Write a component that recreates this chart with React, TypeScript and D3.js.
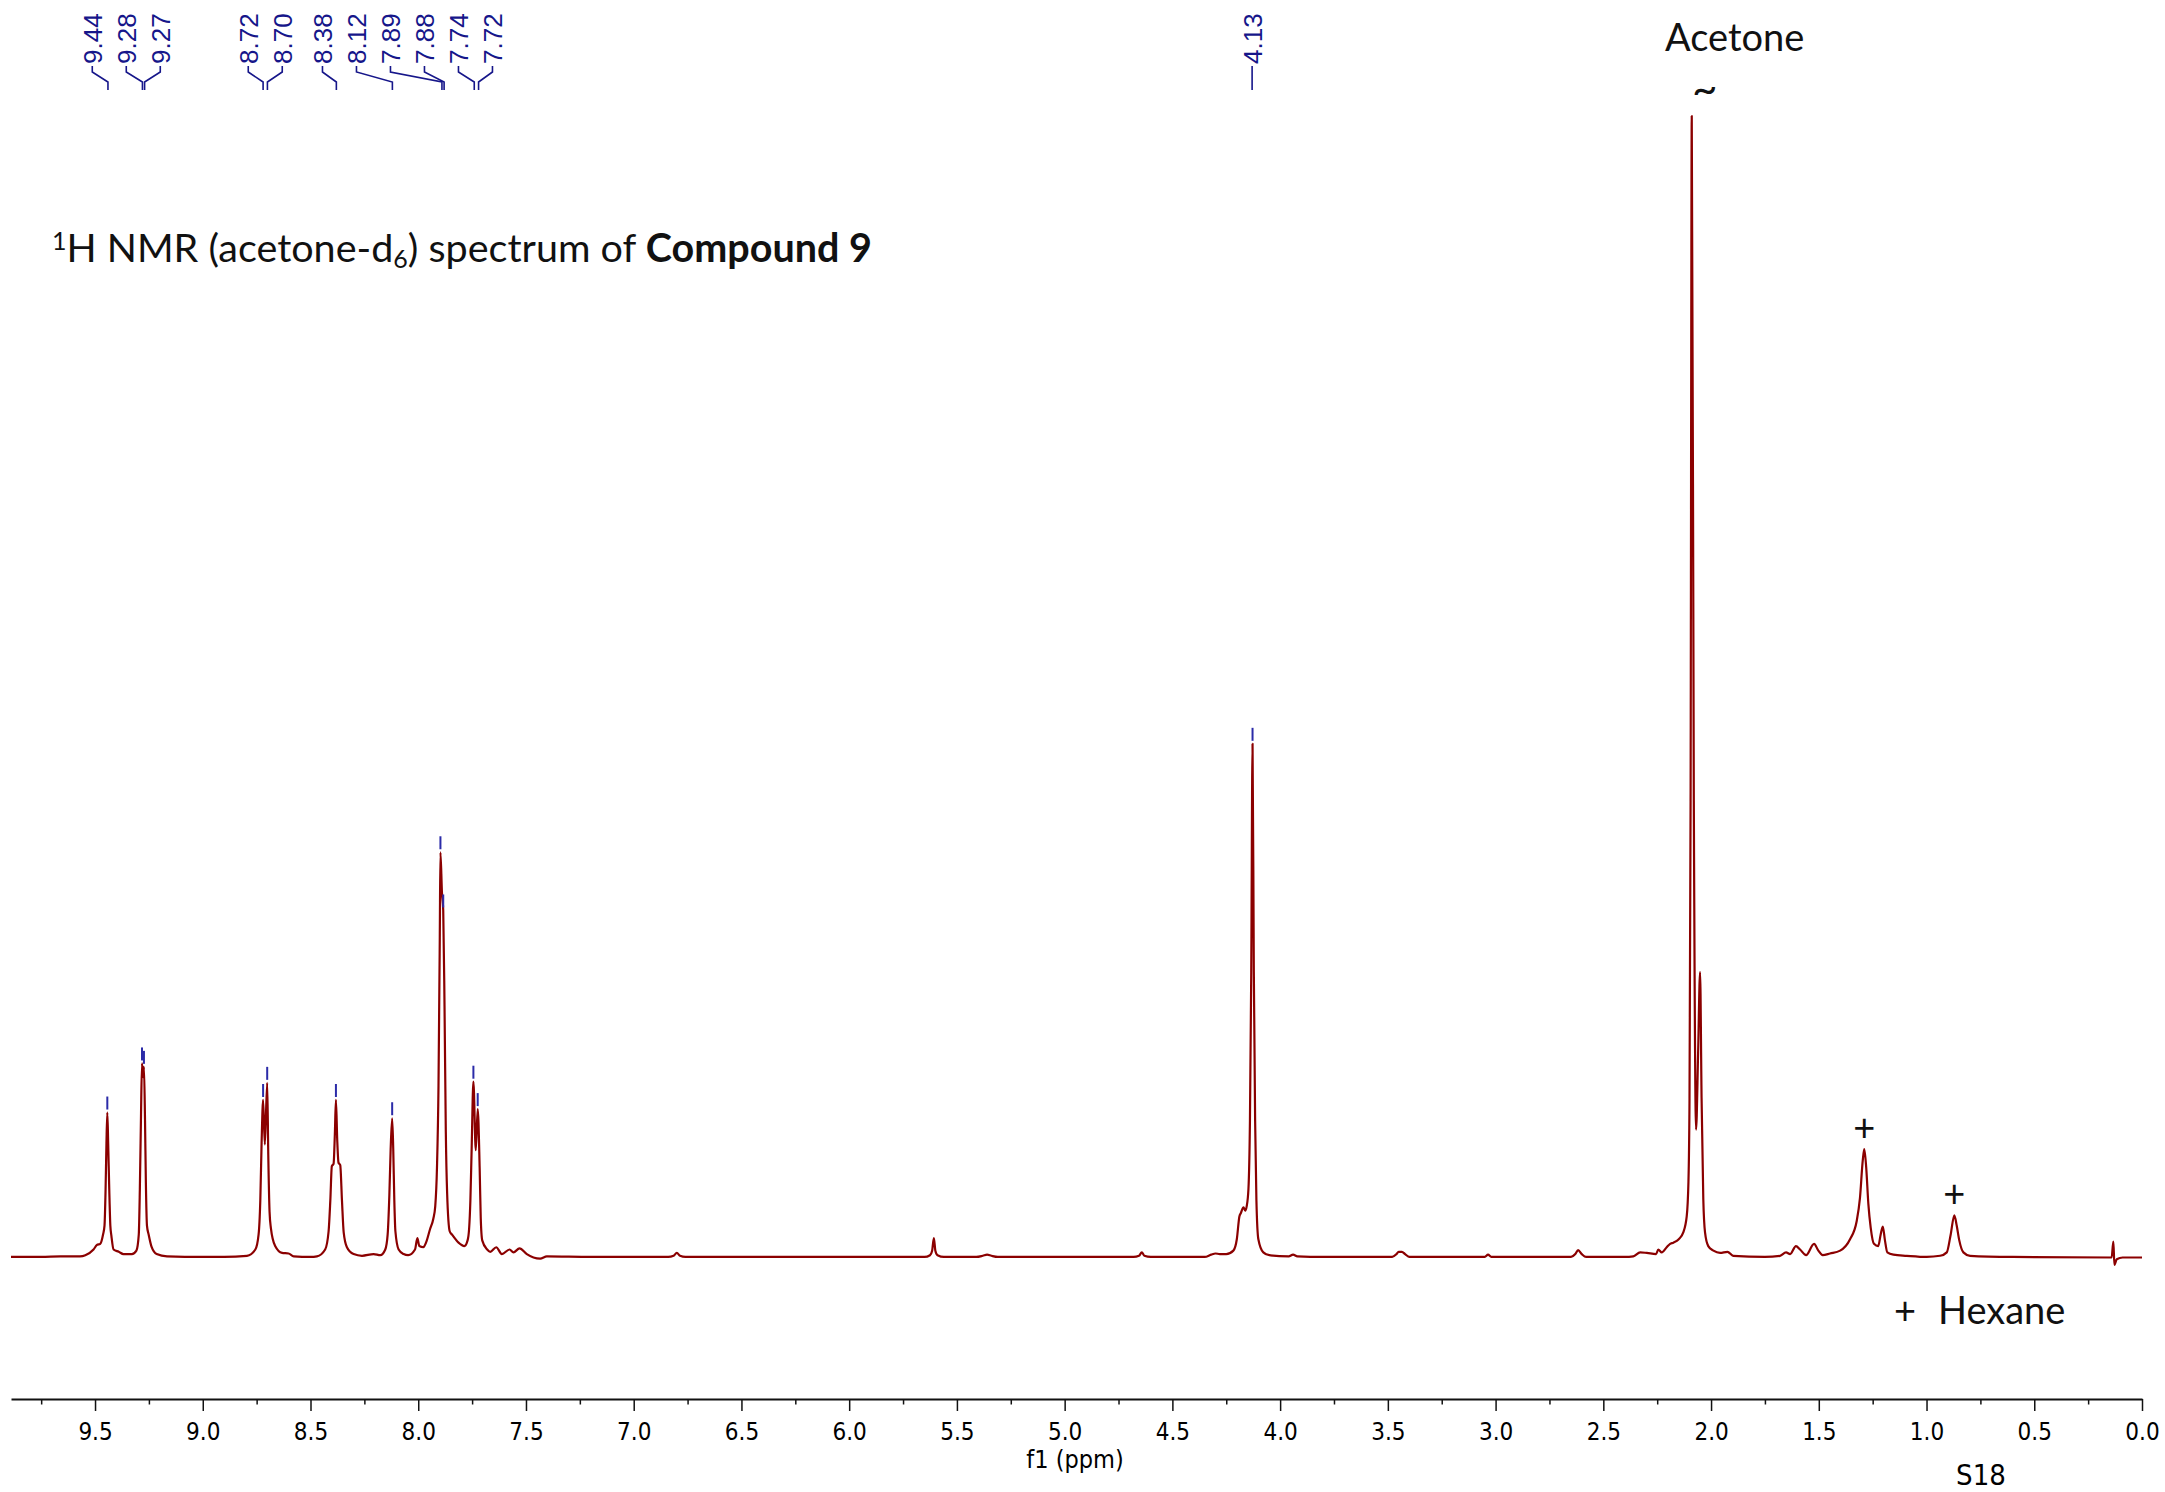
import React, { useEffect, useRef } from 'react'
import * as d3 from 'd3'

// spectrum trace: [ppm, intensity] with the acetone peak = 100
const spectrum: [number, number][] = [
  [9.89, 0.05], [9.75, 0.05], [9.66, 0.1], [9.57, 0.1], [9.545, 0.2], [9.507, 0.7],
  [9.491, 1.1], [9.476, 1.2], [9.463, 2.0], [9.456, 2.8], [9.451, 6.0], [9.447, 10.0],
  [9.443, 12.7], [9.439, 10.0], [9.434, 6.0], [9.429, 2.8], [9.424, 1.9], [9.414, 0.7],
  [9.39, 0.5], [9.368, 0.3], [9.329, 0.3], [9.308, 0.6], [9.297, 2.0], [9.292, 6.0],
  [9.287, 12.0], [9.282, 17.0], [9.277, 15.8], [9.273, 16.7], [9.268, 12.0], [9.264, 6.5],
  [9.259, 2.8], [9.251, 2.0], [9.237, 0.9], [9.214, 0.3], [9.166, 0.1], [9.0, 0.05],
  [8.9, 0.05], [8.795, 0.15], [8.756, 0.7], [8.741, 2.0], [8.733, 5.0], [8.727, 10.0],
  [8.72, 13.8], [8.712, 9.9], [8.701, 15.3], [8.696, 9.0], [8.69, 4.0], [8.684, 2.6],
  [8.664, 1.0], [8.632, 0.4], [8.602, 0.35], [8.578, 0.1], [8.5, 0.05], [8.47, 0.1],
  [8.432, 0.7], [8.416, 2.3], [8.408, 5.0], [8.401, 8.0], [8.393, 8.2], [8.387, 10.8],
  [8.382, 13.8], [8.376, 10.3], [8.37, 8.3], [8.362, 8.1], [8.354, 5.0], [8.346, 2.2],
  [8.331, 0.9], [8.3, 0.3], [8.261, 0.15], [8.207, 0.3], [8.176, 0.2], [8.153, 0.7],
  [8.142, 2.0], [8.134, 5.5], [8.128, 9.5], [8.121, 12.2], [8.116, 9.5], [8.111, 5.0],
  [8.106, 2.3], [8.091, 0.7], [8.068, 0.3], [8.047, 0.2], [8.015, 0.7], [8.004, 1.7],
  [7.995, 1.0], [7.976, 0.9], [7.964, 1.3], [7.945, 2.5], [7.93, 3.4], [7.921, 4.5],
  [7.913, 7.9], [7.906, 15.0], [7.9, 28.0], [7.897, 35.5], [7.89, 32.0], [7.884, 30.4],
  [7.878, 22.0], [7.872, 11.0], [7.866, 5.7], [7.854, 2.3], [7.843, 2.0], [7.813, 1.3],
  [7.786, 1.0], [7.771, 1.5], [7.764, 2.5], [7.758, 5.0], [7.752, 9.6], [7.744, 15.4],
  [7.733, 9.4], [7.724, 13.0], [7.715, 7.9], [7.71, 3.5], [7.703, 1.5], [7.68, 0.7],
  [7.666, 0.5], [7.638, 0.9], [7.612, 0.3], [7.576, 0.7], [7.558, 0.45], [7.53, 0.8],
  [7.496, 0.3], [7.465, 0.0], [7.434, -0.1], [7.403, 0.1], [7.2, 0.05], [6.84, 0.05],
  [6.815, 0.15], [6.8, 0.4], [6.785, 0.15], [6.76, 0.05], [5.65, 0.05], [5.625, 0.2],
  [5.615, 0.6], [5.607, 1.7], [5.6, 0.6], [5.59, 0.2], [5.56, 0.05], [5.41, 0.05],
  [5.38, 0.15], [5.36, 0.25], [5.34, 0.15], [5.31, 0.05], [4.68, 0.05], [4.655, 0.15],
  [4.642, 0.45], [4.63, 0.15], [4.6, 0.05], [4.35, 0.05], [4.32, 0.25], [4.3, 0.35],
  [4.28, 0.3], [4.25, 0.3], [4.217, 0.6], [4.201, 1.6], [4.189, 3.6], [4.182, 3.9],
  [4.17, 4.4], [4.162, 4.1], [4.155, 4.5], [4.147, 6.0], [4.14, 12.0], [4.134, 25.0],
  [4.128, 45.0], [4.122, 25.0], [4.116, 12.0], [4.11, 5.0], [4.101, 1.6], [4.078, 0.45],
  [4.05, 0.2], [3.96, 0.1], [3.94, 0.25], [3.92, 0.1], [3.8, 0.05], [3.48, 0.05],
  [3.46, 0.3], [3.45, 0.5], [3.435, 0.5], [3.42, 0.3], [3.4, 0.05], [3.05, 0.05],
  [3.035, 0.25], [3.02, 0.05], [2.65, 0.05], [2.63, 0.3], [2.617, 0.65], [2.6, 0.3],
  [2.58, 0.05], [2.4, 0.05], [2.361, 0.1], [2.329, 0.45], [2.298, 0.4], [2.255, 0.3],
  [2.245, 0.7], [2.229, 0.45], [2.206, 0.9], [2.19, 1.2], [2.175, 1.3], [2.15, 1.6],
  [2.129, 2.2], [2.113, 3.6], [2.105, 6.6], [2.1, 13.9], [2.095, 40.0], [2.0896, 100.0],
  [2.08, 40.0], [2.0696, 11.2], [2.06, 18.0], [2.051, 25.0], [2.044, 14.0], [2.036, 5.1],
  [2.028, 2.2], [2.013, 1.0], [1.989, 0.6], [1.958, 0.4], [1.924, 0.5], [1.897, 0.15],
  [1.75, 0.05], [1.68, 0.15], [1.652, 0.45], [1.633, 0.3], [1.606, 1.0], [1.587, 0.7],
  [1.559, 0.2], [1.522, 1.2], [1.502, 0.6], [1.482, 0.2], [1.448, 0.35], [1.401, 0.6],
  [1.355, 1.6], [1.324, 3.2], [1.309, 5.2], [1.296, 8.5], [1.289, 9.5], [1.28, 7.9],
  [1.27, 4.7], [1.259, 2.6], [1.244, 1.2], [1.224, 1.0], [1.213, 2.0], [1.203, 2.7],
  [1.193, 1.5], [1.182, 0.45], [1.154, 0.25], [1.092, 0.15], [0.999, 0.05], [0.937, 0.15],
  [0.906, 0.45], [0.888, 2.0], [0.871, 3.7], [0.86, 2.8], [0.848, 1.5], [0.829, 0.45],
  [0.798, 0.15], [0.6, 0.05], [0.141, 0.0], [0.133, 1.4], [0.128, -0.65], [0.117, -0.15],
  [0.09, 0.0], [0.0, 0.0],
]

const peakLabels = [9.44, 9.28, 9.27, 8.72, 8.7, 8.38, 8.12, 7.89, 7.88, 7.74, 7.72, 4.13]
const hexanePeaks = [1.289, 0.871]
const acetonePeak = 2.0896
const majorTicks = [9.5, 9.0, 8.5, 8.0, 7.5, 7.0, 6.5, 6.0, 5.5, 5.0, 4.5, 4.0, 3.5, 3.0, 2.5, 2.0, 1.5, 1.0, 0.5, 0.0]
const minorTicks = [9.75, 9.25, 8.75, 8.25, 7.75, 7.25, 6.75, 6.25, 5.75, 5.25, 4.75, 4.25, 3.75, 3.25, 2.75, 2.25, 1.75, 1.25, 0.75, 0.25]

const WIDTH = 2165
const HEIGHT = 1492
const TRACE = '#8b0000'
const LABEL_BLUE = '#16168a'
const NARROW = "'Liberation Sans Narrow', 'DejaVu Sans Condensed', sans-serif"
const CALIBRI = 'Lato, sans-serif'

// spread peak labels apart the way the NMR software does: merge crowded ones and centre them
const layoutLabels = (xs: number[], gap: number) => {
  let groups = xs.map((x, i) => ({ idx: [i], min: x, max: x }))
  const start = (g: any) => (g.min + g.max) / 2 - ((g.idx.length - 1) * gap) / 2
  let merged = true
  while (merged) {
    merged = false
    for (let i = 0; i < groups.length - 1; i++) {
      const a = groups[i]
      const b = groups[i + 1]
      const aEnd = start(a) + (a.idx.length - 1) * gap
      if (start(b) - aEnd < gap) {
        groups.splice(i, 2, { idx: [...a.idx, ...b.idx], min: a.min, max: b.max })
        merged = true
        break
      }
    }
  }
  const out: number[] = []
  groups.forEach((g) => g.idx.forEach((i, k) => (out[i] = start(g) + k * gap)))
  return out
}

const peakTop = (ppm: number) => {
  const near = spectrum.filter((d) => Math.abs(d[0] - ppm) <= 0.008)
  return d3.greatest(near, (d) => d[1]) as [number, number]
}

const NmrSpectrum = () => {
  const svgRef = useRef<SVGSVGElement | null>(null)

  useEffect(() => {
    document.body.style.margin = '0'
    const svg = d3.select(svgRef.current)
    svg.selectAll('*').remove()

    const x = d3.scaleLinear().domain([9.89, 0]).range([11, 2142])
    const y = d3.scaleLinear().domain([0, 100]).range([1257.5, 116])

    svg.append('rect').attr('width', WIDTH).attr('height', HEIGHT).attr('fill', 'white')

    // the trace
    const line = d3
      .line<[number, number]>()
      .x((d) => x(d[0]))
      .y((d) => y(d[1]))
      .curve(d3.curveMonotoneX)
    svg
      .append('path')
      .datum(spectrum)
      .attr('d', line)
      .attr('fill', 'none')
      .attr('stroke', TRACE)
      .attr('stroke-width', 2.2)
      .attr('stroke-linejoin', 'round')

    // peak picking: labels, connectors and little markers on the tops
    const peakXs = peakLabels.map((p) => x(p))
    const labelXs = layoutLabels(peakXs, 34)
    const picks = svg.append('g').attr('class', 'picks')
    peakLabels.forEach((p, i) => {
      const lx = labelXs[i]
      const px = peakXs[i]
      picks
        .append('text')
        .attr('transform', `translate(${lx + 9.5},64) rotate(-90)`)
        .style('font-family', 'Liberation Sans, Arial, sans-serif')
        .style('font-size', '26px')
        .attr('fill', LABEL_BLUE)
        .text(p.toFixed(2))
      picks
        .append('polyline')
        .attr('points', `${lx},66 ${lx},72 ${px},82 ${px},90`)
        .attr('fill', 'none')
        .attr('stroke', LABEL_BLUE)
        .attr('stroke-width', 1.6)
      const top = peakTop(p)
      picks
        .append('line')
        .attr('x1', x(top[0]))
        .attr('x2', x(top[0]))
        .attr('y1', y(top[1]) - 16)
        .attr('y2', y(top[1]) - 3)
        .attr('stroke', '#2b2ba8')
        .attr('stroke-width', 2)
    })

    // ppm axis
    const axis = d3
      .axisBottom(x)
      .tickValues(majorTicks)
      .tickSize(12)
      .tickSizeOuter(0)
      .tickPadding(12)
      .tickFormat(d3.format('.1f'))
    const axisG = svg.append('g').attr('transform', 'translate(0,1399)').call(axis)
    axisG.attr('font-family', NARROW).attr('font-size', 24)
    axisG.select('.domain').attr('stroke', '#111').attr('stroke-width', 2)
    axisG.selectAll('.tick line').attr('stroke', '#111').attr('stroke-width', 1.5)
    axisG.selectAll('.tick text').attr('fill', '#000')

    const minorAxis = d3.axisBottom(x).tickValues(minorTicks).tickSize(5.5).tickFormat(() => '')
    const minorG = svg.append('g').attr('transform', 'translate(0,1399)').call(minorAxis)
    minorG.select('.domain').remove()
    minorG.selectAll('.tick line').attr('stroke', '#111').attr('stroke-width', 1.5)

    svg
      .append('text')
      .attr('x', 1075)
      .attr('y', 1468)
      .attr('text-anchor', 'middle')
      .style('font-family', NARROW)
      .style('font-size', '25px')
      .text('f1 (ppm)')

    svg
      .append('text')
      .attr('x', 1981)
      .attr('y', 1485)
      .attr('text-anchor', 'middle')
      .style('font-family', NARROW)
      .style('font-size', '29px')
      .text('S18')

    // title
    const title = svg
      .append('text')
      .attr('x', 52)
      .attr('y', 262)
      .style('font-family', CALIBRI)
      .style('font-size', '39.5px')
      .attr('fill', '#111')
    title.append('tspan').attr('baseline-shift', '12').style('font-size', '25px').text('1')
    title.append('tspan').text('H NMR (acetone-d')
    title.append('tspan').attr('baseline-shift', '-6').style('font-size', '25px').text('6')
    title.append('tspan').text(') spectrum of ')
    title.append('tspan').style('font-weight', 'bold').text('Compound 9')

    // solvent annotations
    const ax = x(acetonePeak)
    svg
      .append('text')
      .attr('x', ax + 43)
      .attr('y', 51)
      .attr('text-anchor', 'middle')
      .style('font-family', CALIBRI)
      .style('font-size', '38px')
      .attr('fill', '#111')
      .text('Acetone')
    svg
      .append('text')
      .attr('x', ax + 13)
      .attr('y', 104)
      .attr('text-anchor', 'middle')
      .style('font-family', CALIBRI)
      .style('font-size', '44px')
      .attr('fill', '#111')
      .text('~')

    hexanePeaks.forEach((p) => {
      const top = peakTop(p)
      svg
        .append('text')
        .attr('x', x(p))
        .attr('y', y(top[1]) - 20 + 12)
        .attr('text-anchor', 'middle')
        .style('font-family', CALIBRI)
        .style('font-size', '38px')
        .attr('fill', '#111')
        .text('+')
    })

    const legend = svg.append('g').attr('transform', 'translate(1905,1312)')
    legend
      .append('text')
      .attr('y', 12)
      .attr('text-anchor', 'middle')
      .style('font-family', CALIBRI)
      .style('font-size', '38px')
      .attr('fill', '#111')
      .text('+')
    legend
      .append('text')
      .attr('x', 33)
      .attr('y', 12)
      .style('font-family', CALIBRI)
      .style('font-size', '38px')
      .attr('fill', '#111')
      .text('Hexane')
  }, [])

  return <svg ref={svgRef} width={WIDTH} height={HEIGHT} style={{ display: 'block' }}></svg>
}

export default function App() {
  return <NmrSpectrum />
}
